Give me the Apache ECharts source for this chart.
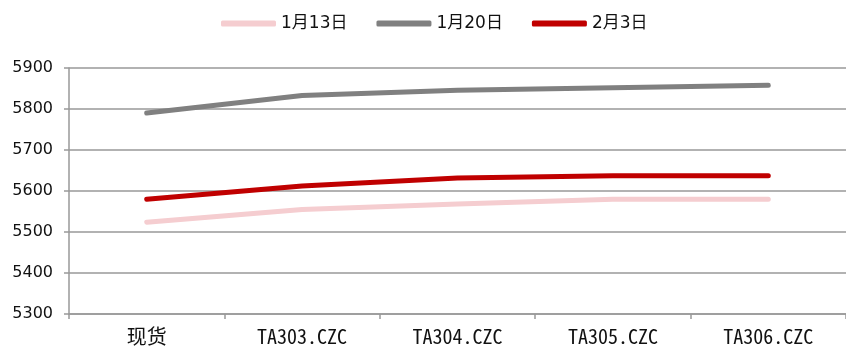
<!DOCTYPE html>
<html>
<head>
<meta charset="utf-8">
<script src="https://cdn.jsdelivr.net/npm/echarts@6/dist/echarts.min.js"></script>
<style>
  html, body { margin: 0; padding: 0; background: #fff; }
  #chart { width: 846px; height: 350px; }
</style>
</head>
<body>
<div id="chart"></div>
<script>
// Contract categories along the x axis
const categories = ['现货', 'TA303.CZC', 'TA304.CZC', 'TA305.CZC', 'TA306.CZC'];

// Price curves on three dates
const seriesNames = ['1月13日', '1月20日', '2月3日'];
const jan13 = [5524, 5555, 5568, 5580, 5580];
const jan20 = [5790, 5833, 5846, 5852, 5858];
const feb3 = [5580, 5612, 5632, 5637, 5637];

const yMin = 5300;
const yMax = 5900;
const yStep = 100;

const colors = ['#F5CDD0', '#808080', '#C00000'];
const gridColor = '#999999';

const chart = echarts.init(document.getElementById('chart'));

const mkLine = (name, data, color) => ({
  name: name,
  type: 'line',
  data: data,
  symbol: 'none',
  lineStyle: { color: color, width: 5, cap: 'round', join: 'round' },
  itemStyle: { color: color },
  z: 3
});

chart.setOption({
  animation: false,
  backgroundColor: '#ffffff',
  textStyle: { fontFamily: '"DejaVu Sans", "Noto Sans CJK SC", sans-serif' },
  legend: {
    left: 216,
    top: 10,
    itemWidth: 55,
    itemHeight: 6,
    itemGap: 29,
    icon: 'roundRect',
    textStyle: {
      fontSize: 17,
      color: '#111',
      fontFamily: '"DejaVu Sans", "Noto Sans CJK SC", sans-serif'
    },
    data: seriesNames
  },
  grid: { left: 69, right: -3, top: 68, bottom: 36, containLabel: false },
  xAxis: {
    type: 'category',
    data: categories,
    boundaryGap: true,
    axisLine: { show: true, lineStyle: { color: gridColor, width: 1.5 } },
    axisTick: { show: true, length: 5, alignWithLabel: false, lineStyle: { color: gridColor, width: 1.5 } },
    axisLabel: {
      margin: 12,
      fontSize: 20,
      color: '#111',
      fontFamily: '"Noto Sans Mono CJK SC", "Noto Sans CJK SC", "Liberation Mono", monospace'
    },
    splitLine: { show: false }
  },
  yAxis: {
    type: 'value',
    min: yMin,
    max: yMax,
    interval: yStep,
    axisLine: { show: true, lineStyle: { color: gridColor, width: 1.5 } },
    axisTick: { show: true, length: 5, lineStyle: { color: gridColor, width: 1.5 } },
    axisLabel: {
      margin: 16,
      fontSize: 16,
      color: '#111',
      fontFamily: '"DejaVu Sans", sans-serif',
      formatter: (v) => String(v)
    },
    splitLine: { show: true, lineStyle: { color: gridColor, width: 1.5 } }
  },
  series: [
    mkLine(seriesNames[0], jan13, colors[0]),
    mkLine(seriesNames[1], jan20, colors[1]),
    mkLine(seriesNames[2], feb3, colors[2])
  ]
});
</script>
</body>
</html>
